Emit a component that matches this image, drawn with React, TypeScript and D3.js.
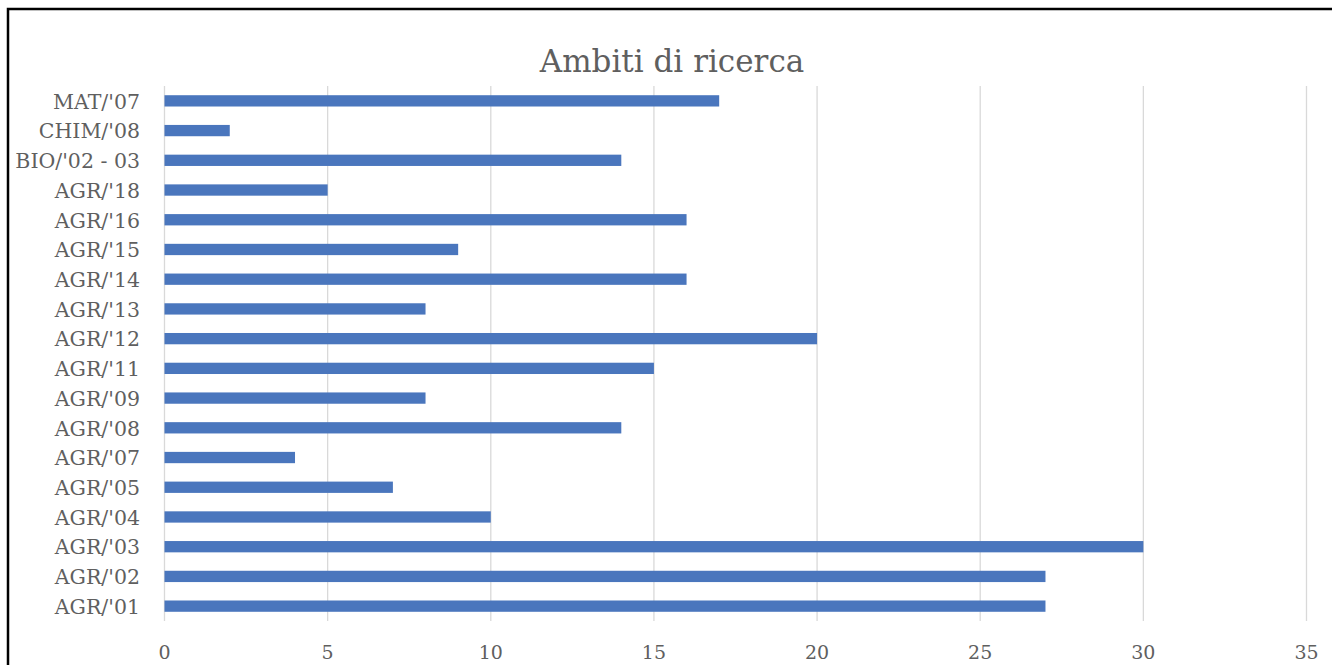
import React, { useEffect, useRef } from "react";
import * as d3 from "d3";

// Research areas, top to bottom
const categories = [
  "MAT/'07",
  "CHIM/'08",
  "BIO/'02 - 03",
  "AGR/'18",
  "AGR/'16",
  "AGR/'15",
  "AGR/'14",
  "AGR/'13",
  "AGR/'12",
  "AGR/'11",
  "AGR/'09",
  "AGR/'08",
  "AGR/'07",
  "AGR/'05",
  "AGR/'04",
  "AGR/'03",
  "AGR/'02",
  "AGR/'01",
];
const counts = [17, 2, 14, 5, 16, 9, 16, 8, 20, 15, 8, 14, 4, 7, 10, 30, 27, 27];
const xTicks = [0, 5, 10, 15, 20, 25, 30, 35];
const title = "Ambiti di ricerca";

const W = 1332;
const H = 665;
const FONT = "'DejaVu Serif', 'Liberation Serif', serif";
const TEXT = "#5f5f5f";

export default function App() {
  const ref = useRef<SVGSVGElement>(null);

  useEffect(() => {
    const svg = d3.select(ref.current);
    svg.selectAll("*").remove();

    svg.append("rect").attr("width", W).attr("height", H).attr("fill", "#fff");
    // frame
    svg
      .append("rect")
      .attr("x", 8)
      .attr("y", 9)
      .attr("width", W + 20)
      .attr("height", H + 20)
      .attr("fill", "none")
      .attr("stroke", "#000")
      .attr("stroke-width", 2.5);

    const x = d3.scaleLinear().domain([0, 35]).range([164.5, 1306.5]);
    const y = d3.scaleBand<string>().domain(categories).range([86, 621]).paddingInner(0.62).paddingOuter(0.31);

    const g = svg.append("g");

    // vertical gridlines
    g.selectAll("line.grid")
      .data(xTicks)
      .join("line")
      .attr("class", "grid")
      .attr("x1", (d) => x(d))
      .attr("x2", (d) => x(d))
      .attr("y1", 86)
      .attr("y2", 621)
      .attr("stroke", "#d9d9d9")
      .attr("stroke-width", 1.3);

    // bars
    g.selectAll("rect.bar")
      .data(categories)
      .join("rect")
      .attr("class", "bar")
      .attr("x", x(0))
      .attr("y", (d) => y(d)!)
      .attr("width", (d, i) => x(counts[i]) - x(0))
      .attr("height", y.bandwidth())
      .attr("fill", "#4a76bd");

    // category labels
    g.selectAll("text.cat")
      .data(categories)
      .join("text")
      .attr("class", "cat")
      .attr("x", 140)
      .attr("y", (d) => y(d)! + y.bandwidth() / 2)
      .attr("dy", "0.38em")
      .attr("text-anchor", "end")
      .attr("font-family", FONT)
      .attr("font-size", 20.5)
      .attr("fill", TEXT)
      .text((d) => d);

    // value axis labels
    g.selectAll("text.tick")
      .data(xTicks)
      .join("text")
      .attr("class", "tick")
      .attr("x", (d) => x(d))
      .attr("y", 659)
      .attr("text-anchor", "middle")
      .attr("font-family", FONT)
      .attr("font-size", 19)
      .attr("fill", TEXT)
      .text((d) => d);

    svg
      .append("text")
      .attr("x", 672)
      .attr("y", 72)
      .attr("text-anchor", "middle")
      .attr("font-family", FONT)
      .attr("font-size", 31)
      .attr("fill", TEXT)
      .text(title);
  }, []);

  return (
    <svg
      ref={ref}
      width={W}
      height={H}
      style={{ position: "absolute", left: 0, top: 0, display: "block" }}
    />
  );
}
